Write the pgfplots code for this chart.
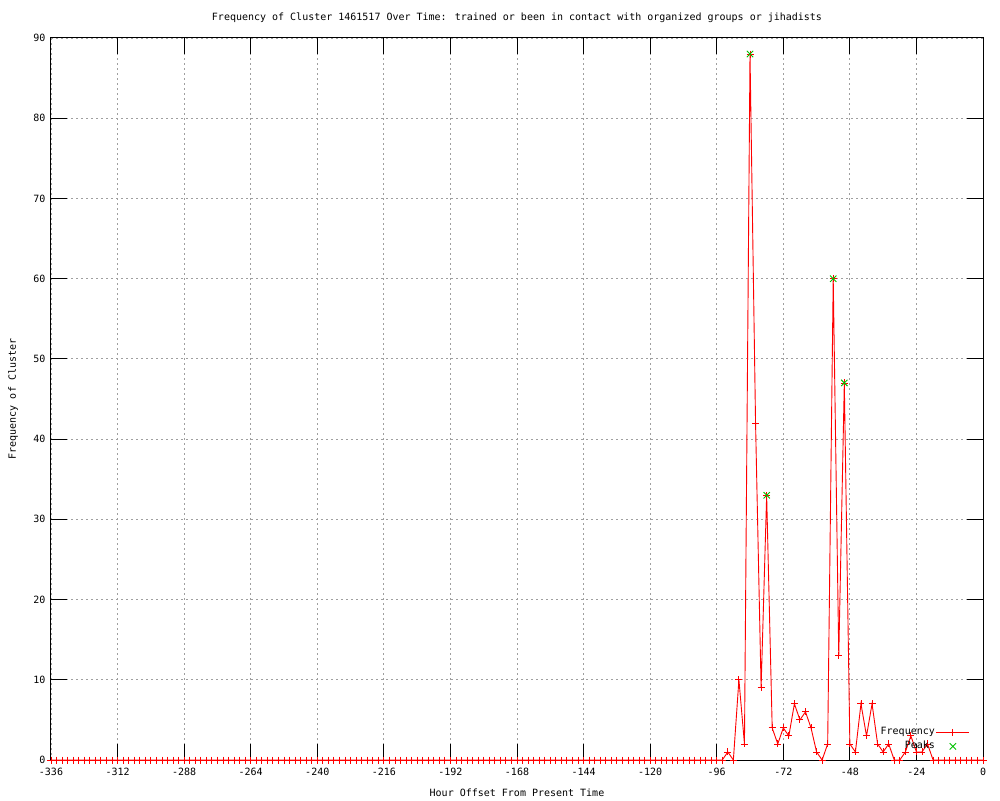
\documentclass[border=0pt]{standalone}
\usepackage{fontspec}
\setmainfont{DejaVu Sans Mono}
\usepackage{pgfplots}
\pgfplotsset{compat=1.18}
\definecolor{gpgreen}{RGB}{0,192,0}
\definecolor{gpred}{RGB}{255,0,0}
\begin{document}
\begin{tikzpicture}
\path (-51pt,-40pt) rectangle (949pt,760pt);
\begin{axis}[
  at={(0,0)}, anchor=south west,
  width=932pt, height=722pt, scale only axis,
  xmin=-336, xmax=0, ymin=0, ymax=90,
  xtick={-336,-312,-288,-264,-240,-216,-192,-168,-144,-120,-96,-72,-48,-24,0},
  xticklabels={-336,-312,-288,-264,-240,-216,-192,-168,-144,-120,-96,-72,-48,-24,0},
  ytick={0,10,20,30,40,50,60,70,80,90},
  yticklabels={0,10,20,30,40,50,60,70,80,90},
  tick align=inside, tick pos=both, major tick length=16pt,
  every tick/.style={black, line width=1pt},
  axis line style={black, line width=1pt},
  grid=major,
  major grid style={gray!75, line width=0.8pt, dash pattern=on 2pt off 3pt},
  every tick label/.append style={font=\fontsize{10}{12}\selectfont},
  xticklabel style={yshift=-5pt},
  yticklabel style={xshift=-2pt},
  title={Frequency of Cluster 1461517 Over Time: trained or been in contact with organized groups or jihadists},
  title style={at={(0.5,1)}, anchor=center, yshift=14pt, font=\fontsize{10}{12}\selectfont},
  xlabel={Hour Offset From Present Time},
  xlabel style={at={(0.5,0)}, anchor=center, yshift=-33pt, font=\fontsize{10}{12}\selectfont},
  ylabel={Frequency of Cluster},
  ylabel style={at={(0,0.5)}, anchor=center, yshift=38pt, font=\fontsize{10}{12}\selectfont},
  clip=false,
  legend style={at={(0.986,0.011)}, anchor=south east, draw=none, fill=none,
    inner sep=0pt, row sep=3pt, font=\fontsize{10}{12}\selectfont,
    nodes={inner sep=1pt, text height=7pt, text depth=2pt},
    /tikz/every even column/.append style={column sep=4pt}},
  legend cell align=right,
  legend plot pos=right,
  legend image code/.code={\draw[mark repeat=2,mark phase=2] plot coordinates {(0pt,0pt) (16.5pt,0pt) (33pt,0pt)};},
]
\addplot[color=gpred, draw=gpred, line width=0.9pt, mark=+, mark size=3.5pt, mark options={draw=gpred, color=gpred, line width=0.9pt}] coordinates {
(-336,0) (-334,0) (-332,0) (-330,0) (-328,0) (-326,0) (-324,0) (-322,0) (-320,0) (-318,0)
(-316,0) (-314,0) (-312,0) (-310,0) (-308,0) (-306,0) (-304,0) (-302,0) (-300,0) (-298,0)
(-296,0) (-294,0) (-292,0) (-290,0) (-288,0) (-286,0) (-284,0) (-282,0) (-280,0) (-278,0)
(-276,0) (-274,0) (-272,0) (-270,0) (-268,0) (-266,0) (-264,0) (-262,0) (-260,0) (-258,0)
(-256,0) (-254,0) (-252,0) (-250,0) (-248,0) (-246,0) (-244,0) (-242,0) (-240,0) (-238,0)
(-236,0) (-234,0) (-232,0) (-230,0) (-228,0) (-226,0) (-224,0) (-222,0) (-220,0) (-218,0)
(-216,0) (-214,0) (-212,0) (-210,0) (-208,0) (-206,0) (-204,0) (-202,0) (-200,0) (-198,0)
(-196,0) (-194,0) (-192,0) (-190,0) (-188,0) (-186,0) (-184,0) (-182,0) (-180,0) (-178,0)
(-176,0) (-174,0) (-172,0) (-170,0) (-168,0) (-166,0) (-164,0) (-162,0) (-160,0) (-158,0)
(-156,0) (-154,0) (-152,0) (-150,0) (-148,0) (-146,0) (-144,0) (-142,0) (-140,0) (-138,0)
(-136,0) (-134,0) (-132,0) (-130,0) (-128,0) (-126,0) (-124,0) (-122,0) (-120,0) (-118,0)
(-116,0) (-114,0) (-112,0) (-110,0) (-108,0) (-106,0) (-104,0) (-102,0) (-100,0) (-98,0)
(-96,0) (-94,0)
(-92,1) (-90,0) (-88,10) (-86,2) (-84,88) (-82,42) (-80,9) (-78,33) (-76,4) (-74,2)
(-72,4) (-70,3) (-68,7) (-66,5) (-64,6) (-62,4) (-60,1) (-58,0) (-56,2) (-54,60)
(-52,13) (-50,47) (-48,2) (-46,1) (-44,7) (-42,3) (-40,7) (-38,2) (-36,1) (-34,2)
(-32,0) (-30,0) (-28,1) (-26,3) (-24,1) (-22,1) (-20,2) (-18,0) (-16,0) (-14,0)
(-12,0) (-10,0) (-8,0) (-6,0) (-4,0) (-2,0) (0,0)
};
\addlegendentry{Frequency}
\addplot[color=gpgreen, only marks, mark=x, mark size=4.5pt, mark options={draw=gpgreen, color=gpgreen, line width=0.9pt}] coordinates {
(-84,88) (-78,33) (-54,60) (-50,47)
};
\addlegendentry{Peaks}
\end{axis}
\end{tikzpicture}
\end{document}
